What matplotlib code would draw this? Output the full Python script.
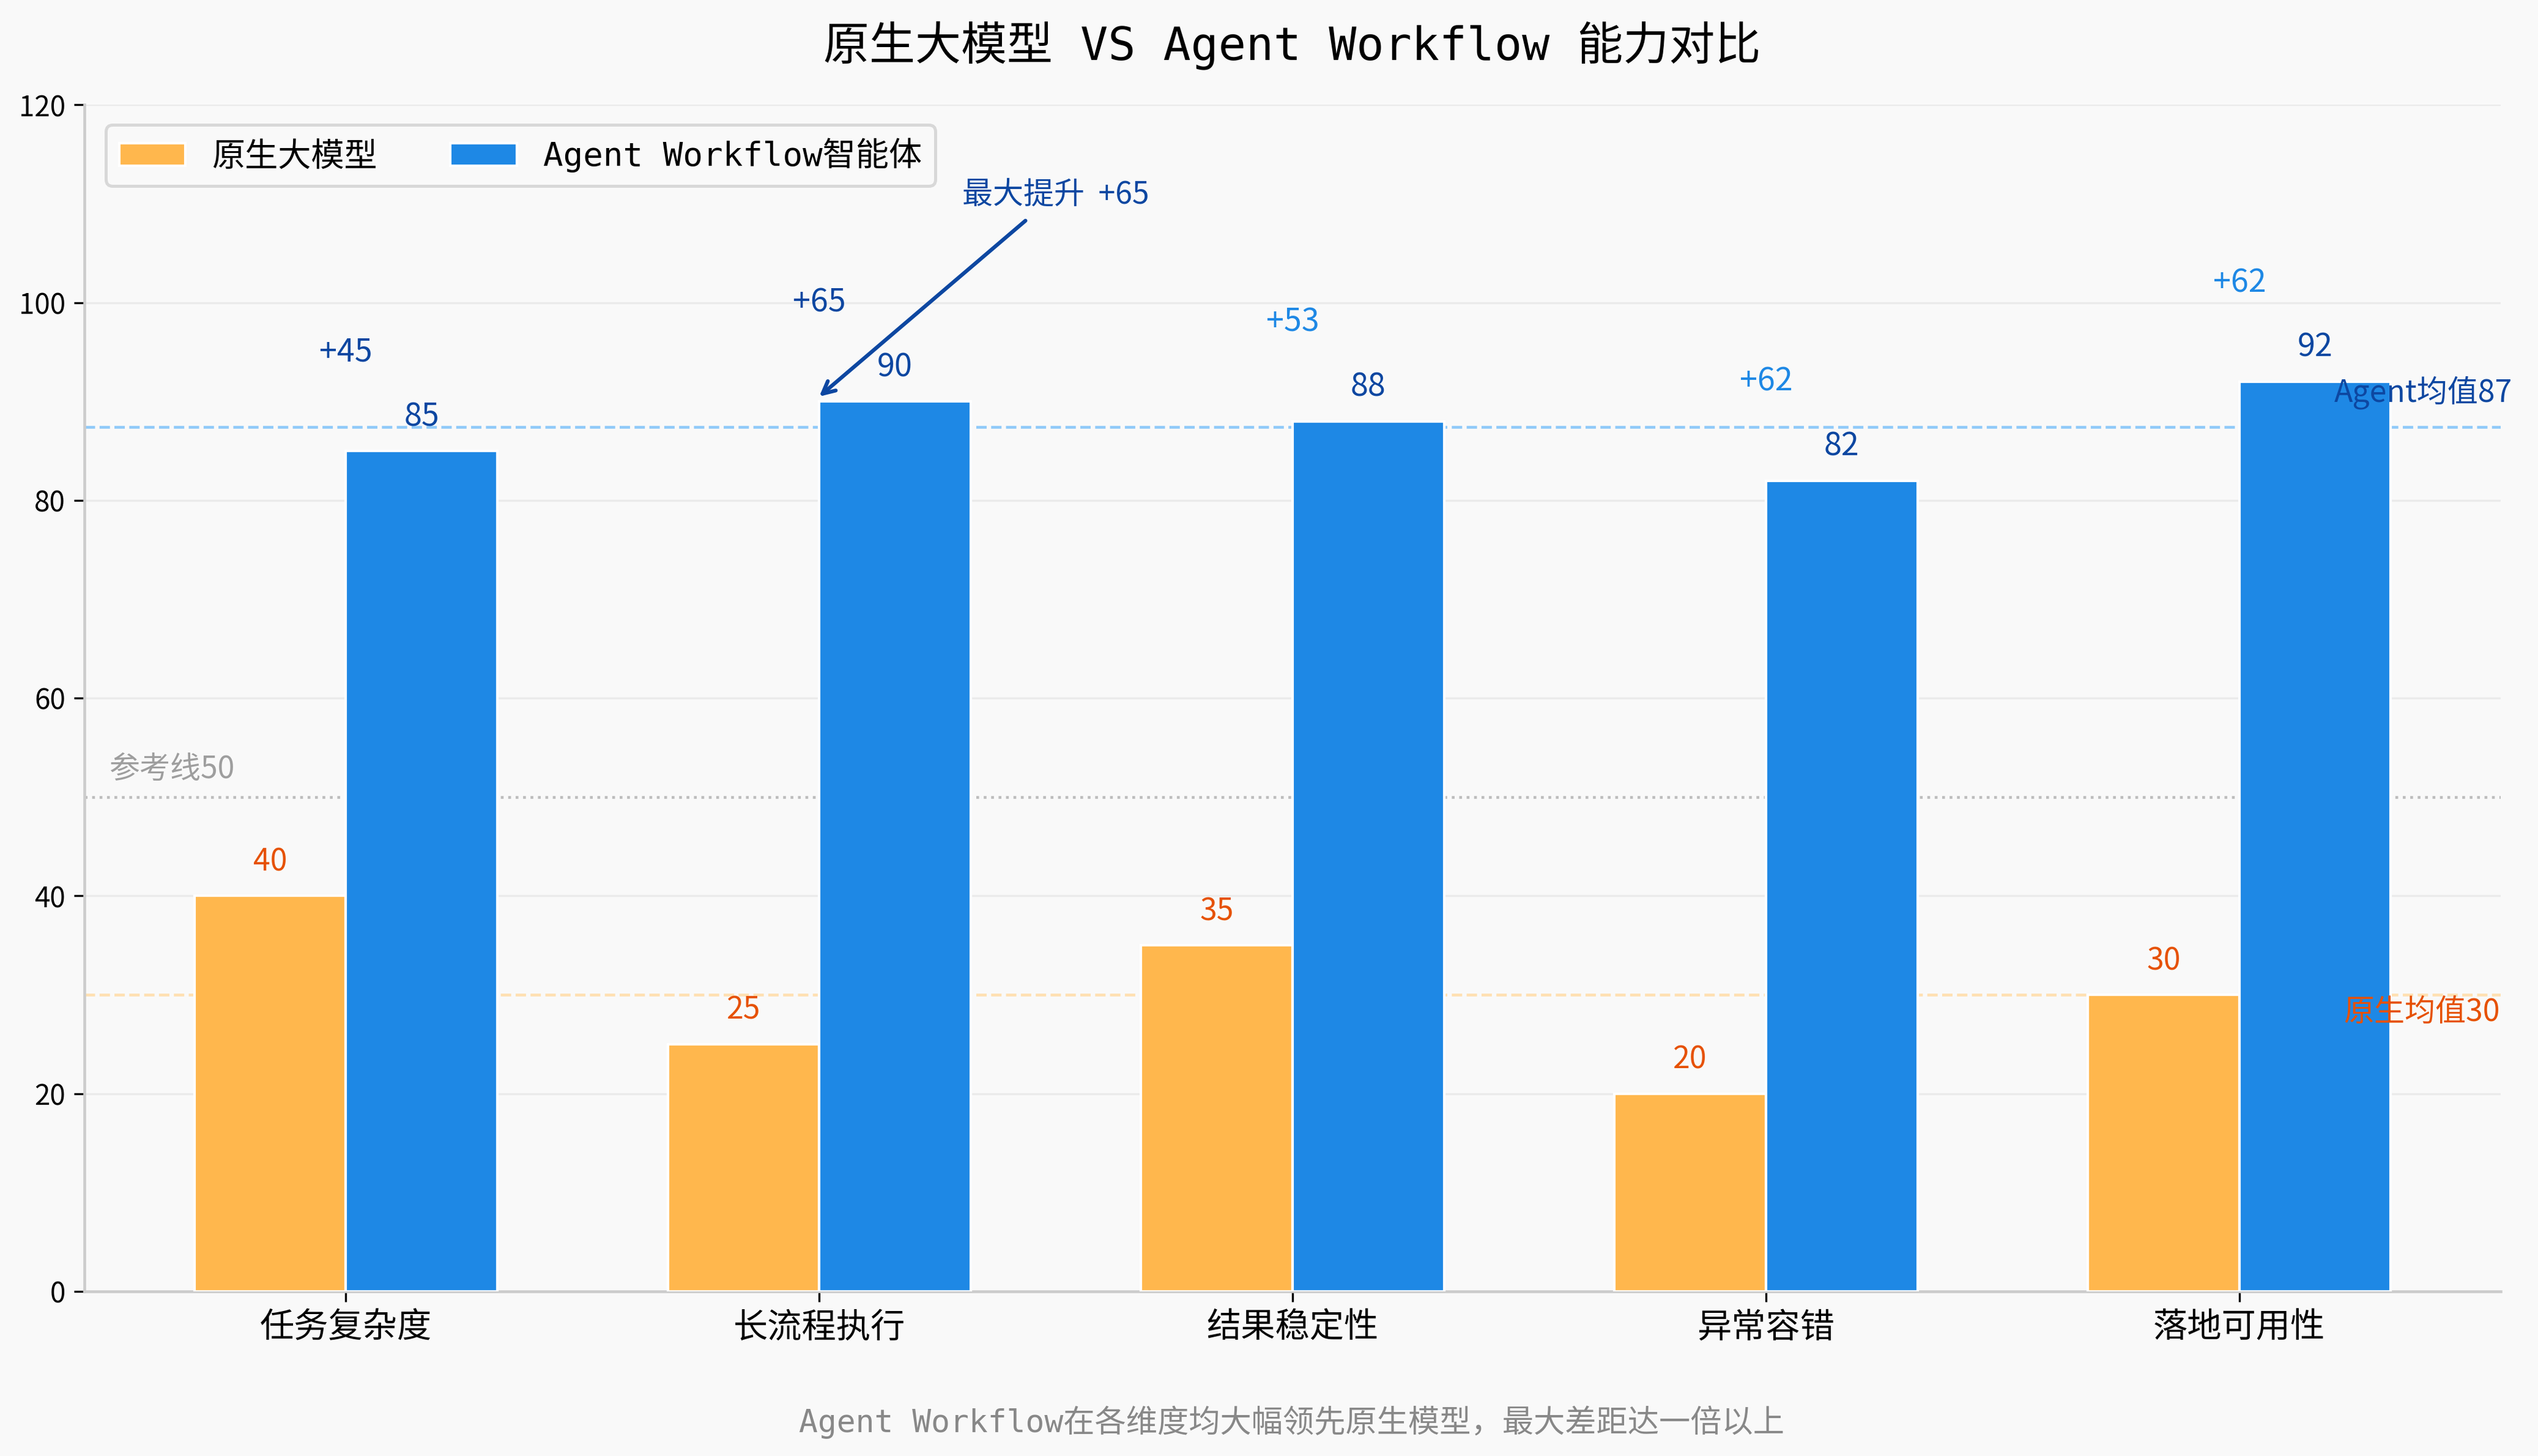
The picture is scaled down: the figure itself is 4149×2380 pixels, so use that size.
import numpy as np
import matplotlib
matplotlib.use("Agg")
import matplotlib.pyplot as plt

plt.rcParams['font.family'] = ['Noto Sans CJK SC', 'DejaVu Sans']
plt.rcParams['axes.unicode_minus'] = False

# data
categories = ['任务复杂度', '长流程执行', '结果稳定性', '异常容错', '落地可用性']
native_scores = [40, 25, 35, 20, 30]
agent_scores = [85, 90, 88, 82, 92]
series_names = ['原生大模型', 'Agent Workflow智能体']
ref_value = 50

# colours
C_NATIVE = '#FFB74D'
C_AGENT = '#1E88E5'
C_NATIVE_TXT = '#E65100'
C_AGENT_TXT = '#0D47A1'
diff_colors = [C_AGENT_TXT, C_AGENT_TXT, C_AGENT, C_AGENT, C_AGENT]
BG = '#F9F9F9'
MONO = ['DejaVu Sans Mono', 'Noto Sans CJK SC']

native = np.array(native_scores)
agent = np.array(agent_scores)
diffs = agent - native
x = np.arange(len(categories))
w = 0.32

fig = plt.figure(figsize=(4149 / 300, 2380 / 300), dpi=300, facecolor=BG)
ax = fig.add_axes([0.0333, 0.113, 0.952, 0.815], facecolor=BG)

b1 = ax.bar(x - w / 2, native, w, color=C_NATIVE, edgecolor='white', linewidth=1,
            label=series_names[0], zorder=3)
b2 = ax.bar(x + w / 2, agent, w, color=C_AGENT, edgecolor='white', linewidth=1,
            label=series_names[1], zorder=3)

# value labels
for xi, v in zip(x, native):
    ax.text(xi - w / 2, v + 1.8, str(v), ha='center', va='bottom',
            fontsize=12, color=C_NATIVE_TXT, zorder=5)
for xi, v in zip(x, agent):
    ax.text(xi + w / 2, v + 1.8, str(v), ha='center', va='bottom',
            fontsize=12.5, color=C_AGENT_TXT, zorder=5)

# improvement labels
for xi, a, d, c in zip(x, agent, diffs, diff_colors):
    ax.text(xi, a + 10, f'+{d}', ha='center', va='center',
            fontsize=12.5, color=c, zorder=5)

# mean and reference lines
native_mean = native.mean()
agent_mean = agent.mean()
ax.axhline(agent_mean, color='#90CAF9', ls='--', lw=1.1, zorder=2)
ax.axhline(native_mean, color='#FFE0B2', ls='--', lw=1.1, zorder=2)
ax.axhline(ref_value, color='#BDBDBD', ls=':', lw=1.1, zorder=2)
ax.text(-0.5, ref_value + 1.2, f'参考线{ref_value}', ha='left', va='bottom',
        fontsize=12, color='#9E9E9E')
ax.text(4.2, agent_mean + 3.5, f'Agent均值{agent_mean:.0f}', ha='left', va='center',
        fontsize=12, color=C_AGENT_TXT, zorder=6)
ax.text(4.22, native_mean - 1.8, f'原生均值{native_mean:.0f}', ha='left', va='center',
        fontsize=12, color=C_NATIVE_TXT, zorder=6)

# max improvement annotation
imax = int(np.argmax(diffs))
ax.annotate(f'最大提升  +{diffs[imax]}', xy=(imax, agent[imax] + 0.5),
            xytext=(imax + 0.5, 109.3), ha='center', va='bottom',
            fontsize=12, color=C_AGENT_TXT,
            arrowprops=dict(arrowstyle='->', color=C_AGENT_TXT, lw=1.5,
                            shrinkA=3, shrinkB=0), zorder=6)

ax.set_ylim(0, 120)
ax.set_yticks(np.arange(0, 121, 20))
ax.set_xticks(x)
ax.set_xticklabels(categories, fontsize=13.5)
ax.tick_params(axis='y', labelsize=11, length=4)
ax.tick_params(axis='x', length=4)
ax.grid(axis='y', color='#EBEBEB', lw=0.8, zorder=0)
ax.set_axisbelow(True)
for s in ['top', 'right']:
    ax.spines[s].set_visible(False)
for s in ['left', 'bottom']:
    ax.spines[s].set_color('#CCCCCC')
    ax.spines[s].set_linewidth(1.1)

leg = ax.legend(loc='upper left', ncol=2, frameon=True, fancybox=True,
                prop={'family': MONO, 'size': 13}, borderpad=0.4,
                handlelength=2.0, columnspacing=2.2, bbox_to_anchor=(0.002, 0.997))
leg.get_frame().set_edgecolor('#D0D0D0')
leg.get_frame().set_facecolor('#F9F9F9')
leg.get_frame().set_linewidth(1.2)

fig.text(0.509, 0.969, '原生大模型 VS Agent Workflow 能力对比', ha='center', va='center',
         fontsize=18, family=MONO, color='black')
fig.text(0.509, 0.023, 'Agent Workflow在各维度均大幅领先原生模型，最大差距达一倍以上',
         ha='center', va='center', fontsize=12.3, family=MONO, color='#888888')

fig.savefig('out.png', dpi=300, facecolor=BG)
